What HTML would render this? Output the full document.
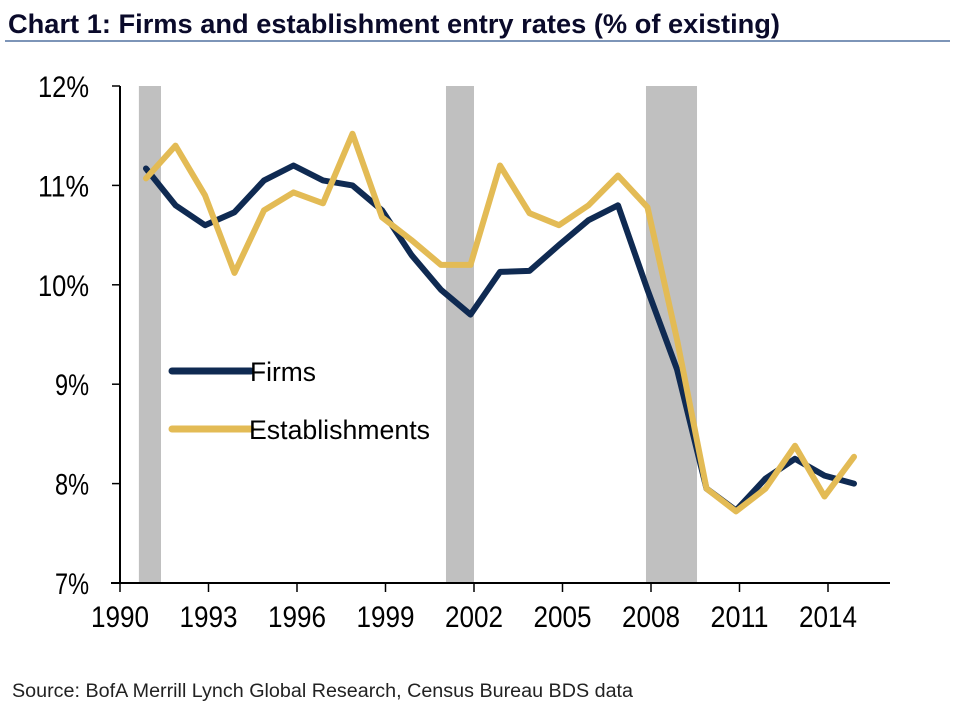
<!DOCTYPE html>
<html><head><meta charset="utf-8">
<style>
body{margin:0;background:#fff;}
svg{display:block;font-family:"Liberation Sans",Arial,sans-serif;}
</style></head>
<body>
<svg id="chart" width="960" height="707" viewBox="0 0 960 707">
<text x="8" y="33" font-family="'Liberation Sans Narrow','Liberation Sans',sans-serif" font-weight="bold" font-size="27" fill="#0a0a2a" textLength="772" lengthAdjust="spacingAndGlyphs">Chart 1: Firms and establishment entry rates (% of existing)</text>
<line x1="5" y1="41" x2="950" y2="41" stroke="#7d95b8" stroke-width="2"/>
<g id="bands"></g>
<g id="axes"></g>
<g id="series"></g>
<g>
<line x1="172" y1="371" x2="251" y2="371" stroke="#0f2a52" stroke-width="7" stroke-linecap="round"/>
<text x="250" y="381" font-size="27" fill="#000" textLength="66" lengthAdjust="spacingAndGlyphs">Firms</text>
<line x1="172" y1="429" x2="251" y2="429" stroke="#e3bb55" stroke-width="7" stroke-linecap="round"/>
<text x="249" y="439" font-size="27" fill="#000" textLength="181" lengthAdjust="spacingAndGlyphs">Establishments</text>
</g>
<text x="12" y="697" font-size="19" fill="#222" textLength="621" lengthAdjust="spacingAndGlyphs">Source: BofA Merrill Lynch Global Research, Census Bureau  BDS data</text>
</svg>
<script>
const years=[1991,1992,1993,1994,1995,1996,1997,1998,1999,2000,2001,2002,2003,2004,2005,2006,2007,2008,2009,2010,2011,2012,2013,2014,2015];
const firms=[11.17,10.8,10.6,10.73,11.05,11.2,11.05,11.0,10.75,10.3,9.95,9.7,10.13,10.14,10.4,10.65,10.8,9.95,9.15,7.95,7.73,8.05,8.25,8.08,8.0];
const establishments=[11.07,11.4,10.9,10.12,10.75,10.93,10.82,11.52,10.68,10.45,10.2,10.2,11.2,10.72,10.6,10.8,11.1,10.78,9.45,7.95,7.72,7.95,8.38,7.87,8.27];
const xTicks=[1990,1993,1996,1999,2002,2005,2008,2011,2014];
const yTicks=[7,8,9,10,11,12];
const recessionStarts=[1990.64,2001.05,2007.83];
const recessionEnds=[1991.39,2002.0,2009.56];

const NS="http://www.w3.org/2000/svg";
function x(yr){return 120+(yr-1990)*29.5;}
function xp(yr){return x(yr-0.12);}
function y(v){return 583-(v-7)*99.4;}
function mk(tag,attrs,parent){const e=document.createElementNS(NS,tag);for(const k in attrs)e.setAttribute(k,attrs[k]);parent.appendChild(e);return e;}
const bands=document.getElementById('bands'),axes=document.getElementById('axes'),series=document.getElementById('series');
recessionStarts.forEach((s,i)=>{
  const r=mk('rect',{x:x(s),y:y(12),width:x(recessionEnds[i])-x(s),height:y(7)-y(12),fill:'#c0c0c0'},bands);
  
  
});
const ya=mk('line',{x1:120,y1:y(12),x2:120,y2:y(7),stroke:'#000','stroke-width':2},axes);


const xa=mk('line',{x1:111,y1:583,x2:890,y2:583,stroke:'#000','stroke-width':2},axes);


yTicks.forEach(v=>{
  const t=mk('line',{x1:112,y1:y(v),x2:120,y2:y(v),stroke:'#000','stroke-width':1.5},axes);
  
  
  const l=mk('text',{x:89,y:y(v)+11,'text-anchor':'end','font-size':30,fill:'#000',textLength:(String(v).length+1)*17,lengthAdjust:'spacingAndGlyphs'},axes);
  l.textContent=v+'%';
  
  
});
xTicks.forEach(v=>{
  const t=mk('line',{x1:x(v),y1:583,x2:x(v),y2:592,stroke:'#000','stroke-width':1.5},axes);
  
  
  const l=mk('text',{x:x(v),y:627,'text-anchor':'middle','font-size':30,fill:'#000',textLength:58,lengthAdjust:'spacingAndGlyphs'},axes);
  l.textContent=v;
  
  
});
function line(vals,color,name){
  const d=vals.map((v,i)=>(i?'L':'M')+xp(years[i]).toFixed(1)+','+y(v).toFixed(1)).join(' ');
  const p=mk('path',{d:d,fill:'none',stroke:color,'stroke-width':6,'stroke-linejoin':'round','stroke-linecap':'round'},series);
  
  
}
line(firms,'#0f2a52','firms-line');
line(establishments,'#e3bb55','establishments-line');
</script>
</body></html>
